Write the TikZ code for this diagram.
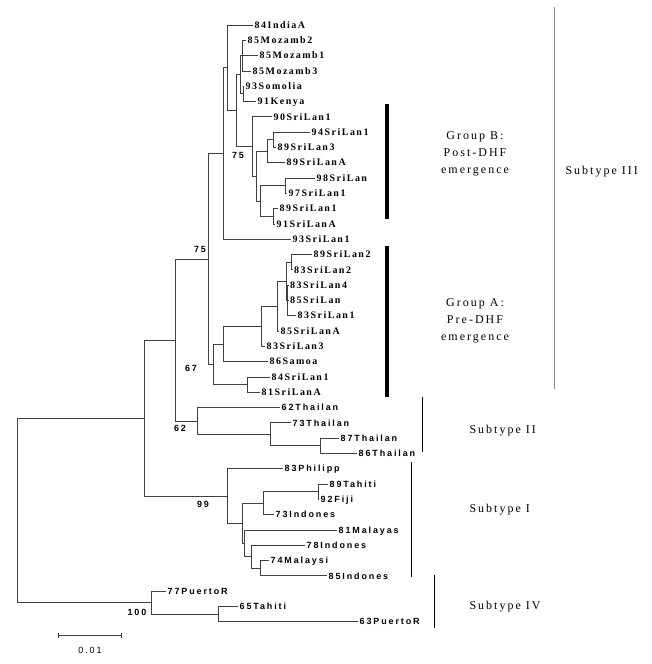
\documentclass[tikz,border=0pt]{standalone}
\usepackage{fontspec}
\setmainfont{Liberation Serif}
\newfontfamily\serifleaf{Liberation Serif}[LetterSpace=15]
\newfontfamily\sansleaf{Liberation Sans}[LetterSpace=21]
\newfontfamily\sidelab{Liberation Serif}[LetterSpace=17]
\usepackage{tikz}
\usetikzlibrary{arrows.meta}

\begin{document}
\begin{tikzpicture}[
  x=1bp, y=-1bp,
  branch/.style={draw=black!75, line width=0.7bp},
  leafA/.style={anchor=west, inner xsep=1.5bp, inner ysep=0pt,
                text height=6.5bp, text depth=0pt,
                font=\serifleaf\bfseries\fontsize{10}{10}\selectfont},
  leafB/.style={anchor=west, inner xsep=1.5bp, inner ysep=0pt,
                text height=6.5bp, text depth=0pt,
                font=\sansleaf\bfseries\fontsize{9}{9}\selectfont},
  boot/.style={font=\sansleaf\bfseries\fontsize{9}{9}\selectfont},
  groupbar/.style={line width=4.5bp},
  bracket/.style={line width=0.8bp},
  sidelabel/.style={font=\sidelab\fontsize{12}{17}\selectfont, align=center},
]
  \useasboundingbox (0,0) rectangle (652,664);

  % inner nodes of the tree
  \coordinate (root) at (17, 510.25);
  \coordinate (nA)   at (144, 417.9);
  \coordinate (nB)   at (175, 339.9);
  \coordinate (nIII) at (208, 258.85);
  \coordinate (nP2)  at (223, 153.5);
  \coordinate (nP1)  at (227, 67.8);
  \coordinate (nX)   at (236, 110.6);
  \coordinate (nAF)  at (240, 74.7);
  \coordinate (nM)   at (242, 55.6);
  \coordinate (nSK)  at (243, 93.85);
  \coordinate (nGB)  at (252, 146.45);
  \coordinate (nQ)   at (256, 176.1);
  \coordinate (nS)   at (267, 151.2);
  \coordinate (nR)   at (273, 139.75);
  \coordinate (nT)   at (260, 200.95);
  \coordinate (nU)   at (285, 185.65);
  \coordinate (nV)   at (273, 216.25);
  \coordinate (nL)   at (213, 364.2);
  \coordinate (nM2)  at (223, 343.9);
  \coordinate (nO)   at (261, 326.2);
  \coordinate (nP)   at (277, 306.15);
  \coordinate (nQa)  at (286, 281.3);
  \coordinate (nW)   at (291, 262.15);
  \coordinate (nY)   at (287.5, 300.4);
  \coordinate (nN)   at (247, 384.55);
  \coordinate (nII)  at (197, 420.9);
  \coordinate (nT2)  at (270, 434.3);
  \coordinate (nT3)  at (320, 445.75);
  \coordinate (nC)   at (227, 495.95);
  \coordinate (nD)   at (242, 523.2);
  \coordinate (nE)   at (263, 503.1);
  \coordinate (nG)   at (318, 491.65);
  \coordinate (nF)   at (244, 543.3);
  \coordinate (nH)   at (251, 556.7);
  \coordinate (nI)   at (260, 568.15);
  \coordinate (nIV)  at (151, 602.6);
  \coordinate (nPT)  at (218, 614.05);

  % leaves
  \node[leafA] (indiaA)   at (253, 25.0)    {84IndiaA};
  \node[leafA] (mozamb2)  at (246, 40.3)    {85Mozamb2};
  \node[leafA] (mozamb1)  at (258, 55.6)    {85Mozamb1};
  \node[leafA] (mozamb3)  at (251, 70.9)    {85Mozamb3};
  \node[leafA] (somolia)  at (244, 86.2)    {93Somolia};
  \node[leafA] (kenya)    at (256, 101.5)   {91Kenya};
  \node[leafA] (sl90)     at (272, 116.8)   {90SriLan1};
  \node[leafA] (sl94)     at (310, 132.1)   {94SriLan1};
  \node[leafA] (sl89c)    at (276, 147.4)   {89SriLan3};
  \node[leafA] (sl89a)    at (285, 162.7)   {89SriLanA};
  \node[leafA] (sl98)     at (315, 178.0)   {98SriLan};
  \node[leafA] (sl97)     at (287, 193.3)   {97SriLan1};
  \node[leafA] (sl89)     at (278, 208.6)   {89SriLan1};
  \node[leafA] (sl91)     at (275, 223.9)   {91SriLanA};
  \node[leafA] (sl93)     at (291, 239.2)   {93SriLan1};
  \node[leafA] (sl89b)    at (312, 254.5)   {89SriLan2};
  \node[leafA] (sl83b)    at (292.5, 269.8) {83SriLan2};
  \node[leafA] (sl83d)    at (288.5, 285.1) {83SriLan4};
  \node[leafA] (sl85)     at (288.5, 300.4) {85SriLan};
  \node[leafA] (sl83a)    at (296, 315.7)   {83SriLan1};
  \node[leafA] (sl85a)    at (279, 331.0)   {85SriLanA};
  \node[leafA] (sl83c)    at (265, 346.3)   {83SriLan3};
  \node[leafA] (samoa)    at (268, 361.6)   {86Samoa};
  \node[leafA] (sl84)     at (270, 376.9)   {84SriLan1};
  \node[leafA] (sl81)     at (260, 392.2)   {81SriLanA};
  \node[leafB] (th62)     at (280, 407.5)   {62Thailan};
  \node[leafB] (th73)     at (291, 422.8)   {73Thailan};
  \node[leafB] (th87)     at (339, 438.1)   {87Thailan};
  \node[leafB] (th86)     at (357, 453.4)   {86Thailan};
  \node[leafB] (philipp)  at (283, 468.7)   {83Philipp};
  \node[leafB] (tahiti89) at (328, 484.0)   {89Tahiti};
  \node[leafB] (fiji)     at (319, 499.3)   {92Fiji};
  \node[leafB] (indo73)   at (274, 514.6)   {73Indones};
  \node[leafB] (malayas)  at (337, 529.9)   {81Malayas};
  \node[leafB] (indo78)   at (305, 545.2)   {78Indones};
  \node[leafB] (malaysi)  at (269, 560.5)   {74Malaysi};
  \node[leafB] (indo85)   at (327, 575.8)   {85Indones};
  \node[leafB] (pr77)     at (166, 591.1)   {77PuertoR};
  \node[leafB] (tahiti65) at (238, 606.4)   {65Tahiti};
  \node[leafB] (pr63)     at (358, 621.7)   {63PuertoR};

  % branches between inner nodes
  \foreach \p/\c in {root/nA, root/nIV, nA/nB, nA/nC, nB/nIII, nB/nII,
      nIII/nP2, nIII/nL, nP2/nP1, nP1/nX, nX/nAF, nX/nGB, nAF/nM, nAF/nSK,
      nGB/nQ, nQ/nS, nQ/nT, nS/nR, nT/nU, nT/nV, nL/nM2, nL/nN, nM2/nO,
      nO/nP, nP/nQa, nQa/nW, nQa/nY, nII/nT2, nT2/nT3, nC/nD, nD/nE,
      nD/nF, nE/nG, nF/nH, nH/nI, nIV/nPT}
    \draw[branch] (\p) |- (\c);

  % branches to the leaves
  \foreach \p/\c in {nP1/indiaA, nM/mozamb2, nM/mozamb1, nM/mozamb3,
      nSK/somolia, nSK/kenya, nGB/sl90, nR/sl94, nR/sl89c, nS/sl89a,
      nU/sl98, nU/sl97, nV/sl89, nV/sl91, nP2/sl93, nW/sl89b, nW/sl83b,
      nY/sl83d, nY/sl85, nY/sl83a, nP/sl85a, nO/sl83c, nM2/samoa,
      nN/sl84, nN/sl81, nII/th62, nT2/th73, nT3/th87, nT3/th86,
      nC/philipp, nG/tahiti89, nG/fiji, nE/indo73, nF/malayas,
      nH/indo78, nI/malaysi, nI/indo85, nIV/pr77, nPT/tahiti65, nPT/pr63}
    \draw[branch] (\p) |- (\c.west);

  % bootstrap values
  \node[boot] (bs75a) at (238, 155) {75};
  \node[boot] (bs75b) at (200, 249) {75};
  \node[boot] (bs67)  at (191, 368) {67};
  \node[boot] (bs62)  at (180, 428) {62};
  \node[boot] (bs99)  at (203, 504) {99};
  \node[boot] (bs100) at (137, 612) {100};

  % scale bar
  \coordinate (sbL) at (58, 635);
  \coordinate (sbR) at (122, 635);
  \draw[branch, {Bar[width=5bp]}-{Bar[width=5bp]}] (sbL) -- (sbR);
  \node[font=\sansleaf\fontsize{9}{9}\selectfont] (sblab) at (90, 650) {0.01};

  % groups and subtypes
  \draw[groupbar] (387, 104) -- (387, 219);
  \draw[groupbar] (387, 246) -- (387, 397);
  \node[sidelabel] (grpB) at (475, 154) {Group B:\\Post-DHF\\emergence};
  \node[sidelabel] (grpA) at (475, 321) {Group A:\\Pre-DHF\\emergence};

  \draw[bracket, black!45] (554, 7) -- (554, 389);
  \draw[bracket] (422, 397) -- (422, 452);
  \draw[bracket] (411, 462) -- (411, 577);
  \draw[bracket] (434, 575) -- (434, 628);
  \node[sidelabel, anchor=west] (subIII) at (562, 172) {Subtype III};
  \node[sidelabel, anchor=west] (subII)  at (466, 431) {Subtype II};
  \node[sidelabel, anchor=west] (subI)   at (466, 510) {Subtype I};
  \node[sidelabel, anchor=west] (subIV)  at (466, 607) {Subtype IV};
\end{tikzpicture}
\end{document}
